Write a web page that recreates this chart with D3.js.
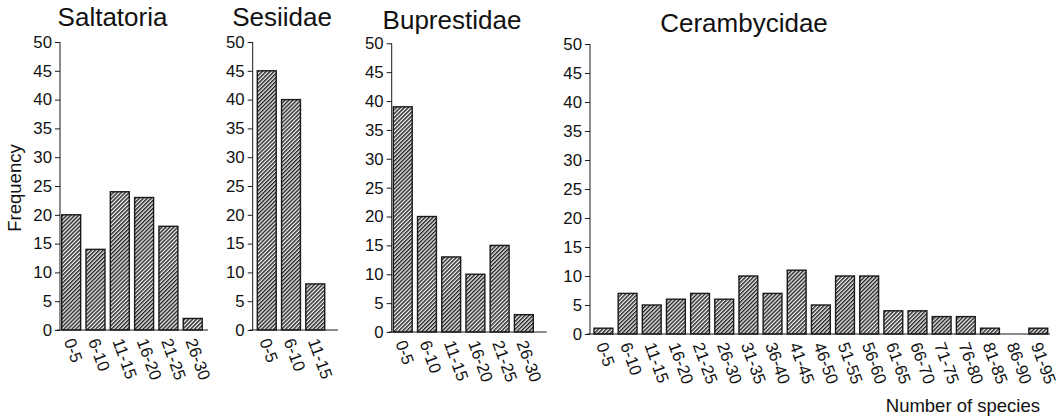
<!DOCTYPE html>
<html>
<head>
<meta charset="utf-8">
<script src="https://cdn.jsdelivr.net/npm/d3@7"></script>
<style>
  html, body { margin: 0; padding: 0; background: #fff; }
  svg { display: block; font-family: "Liberation Sans", Arial, sans-serif; }
</style>
</head>
<body>
<svg id="chart" width="1060" height="417"></svg>
<script>
// ---- Data ----
const panelNames = ["Saltatoria", "Sesiidae", "Buprestidae", "Cerambycidae"];

const saltatoriaCategories = ["0-5", "6-10", "11-15", "16-20", "21-25", "26-30"];
const saltatoriaValues     = [20, 14, 24, 23, 18, 2];

const sesiidaeCategories = ["0-5", "6-10", "11-15"];
const sesiidaeValues     = [45, 40, 8];

const buprestidaeCategories = ["0-5", "6-10", "11-15", "16-20", "21-25", "26-30"];
const buprestidaeValues     = [39, 20, 13, 10, 15, 3];

const cerambycidaeCategories = ["0-5", "6-10", "11-15", "16-20", "21-25", "26-30", "31-35", "36-40",
  "41-45", "46-50", "51-55", "56-60", "61-65", "66-70", "71-75", "76-80", "81-85", "86-90", "91-95"];
const cerambycidaeValues     = [1, 7, 5, 6, 7, 6, 10, 7, 11, 5, 10, 10, 4, 4, 3, 3, 1, 0, 1];

const yTickValues = [0, 5, 10, 15, 20, 25, 30, 35, 40, 45, 50];
const yLabel = "Frequency";
const xLabel = "Number of species";

// ---- Layout (pixel positions per panel) ----
const layout = [
  { axisX: 60,    axisEnd: 208,  barStart: 61.7,  barEnd: 202.2,  y0: 330, y50: 42,   titleX: 112.5, titleY: 25.5 },
  { axisX: 252.7, axisEnd: 338,  barStart: 257.3, barEnd: 324.7,  y0: 330, y50: 42,   titleX: 282,   titleY: 26 },
  { axisX: 391.7, axisEnd: 546.7,barStart: 393.3, barEnd: 533.3,  y0: 332, y50: 43.3, titleX: 452,   titleY: 28.5 },
  { axisX: 590,   axisEnd: 1050, barStart: 594,   barEnd: 1047.7, y0: 334, y50: 44,   titleX: 744,   titleY: 32 }
];

const panels = [
  { cats: saltatoriaCategories, vals: saltatoriaValues },
  { cats: sesiidaeCategories, vals: sesiidaeValues },
  { cats: buprestidaeCategories, vals: buprestidaeValues },
  { cats: cerambycidaeCategories, vals: cerambycidaeValues }
];

const svg = d3.select("#chart");
const ink = "#1a1a1a";

// hatch pattern
const defs = svg.append("defs");
const pat = defs.append("pattern")
  .attr("id", "hatch")
  .attr("patternUnits", "userSpaceOnUse")
  .attr("width", 2.8).attr("height", 2.8)
  .attr("patternTransform", "rotate(45)");
pat.append("rect").attr("width", 2.8).attr("height", 2.8).attr("fill", "#f4f4f4");
pat.append("line").attr("x1", 0.7).attr("y1", 0).attr("x2", 0.7).attr("y2", 2.8)
  .attr("stroke", "#222").attr("stroke-width", 1.5);

panels.forEach((p, i) => {
  const L = layout[i];
  const g = svg.append("g");

  const y = d3.scaleLinear().domain([0, 50]).range([L.y0, L.y50]);
  const x = d3.scaleBand().domain(p.cats).range([L.barStart, L.barEnd])
    .paddingInner(0.22).paddingOuter(0);

  // y axis
  const yAxis = d3.axisLeft(y).tickValues(yTickValues).tickSize(5).tickPadding(3);
  const ya = g.append("g").attr("transform", `translate(${L.axisX},0)`).call(yAxis);
  ya.select(".domain").attr("stroke", ink).attr("stroke-width", 1).attr("d", `M-0.0,${L.y50}V${L.y0}`);
  ya.selectAll(".tick line").attr("stroke", ink);
  ya.selectAll(".tick text").attr("fill", "#111").style("font-size", "16.8px")
    .style("font-family", "'Liberation Sans', Arial, sans-serif");

  // bars
  g.selectAll("rect.bar").data(p.vals.map((v, k) => ({ c: p.cats[k], v })))
    .enter().filter(d => d.v > 0).append("rect")
    .attr("class", "bar")
    .attr("x", d => x(d.c))
    .attr("y", d => y(d.v))
    .attr("width", x.bandwidth())
    .attr("height", d => y(0) - y(d.v))
    .attr("fill", "url(#hatch)")
    .attr("stroke", ink)
    .attr("stroke-width", 1.4);

  // x baseline
  g.append("line")
    .attr("x1", L.axisX - 3).attr("x2", L.axisEnd)
    .attr("y1", L.y0).attr("y2", L.y0)
    .attr("stroke", ink).attr("stroke-width", 1);

  // x labels
  g.selectAll("text.xl").data(p.cats).enter().append("text")
    .attr("class", "xl")
    .attr("transform", d => `translate(${x(d) + x.bandwidth() / 2 - 2},${L.y0 + 9}) rotate(70)`)
    .attr("dy", "0.35em")
    .attr("text-anchor", "start")
    .attr("fill", "#111")
    .style("font-size", "16.8px")
    .text(d => d);

  // title
  g.append("text")
    .attr("x", L.titleX).attr("y", L.titleY)
    .attr("text-anchor", "middle")
    .attr("fill", "#111")
    .style("font-size", "26px")
    .text(panelNames[i]);
});

// y label
svg.append("text")
  .attr("transform", "translate(21,188) rotate(-90)")
  .attr("text-anchor", "middle")
  .attr("fill", "#111")
  .style("font-size", "18.5px")
  .text(yLabel);

// x label
svg.append("text")
  .attr("x", 1040).attr("y", 412)
  .attr("text-anchor", "end")
  .attr("fill", "#111")
  .style("font-size", "18.5px")
  .text(xLabel);
</script>
</body>
</html>
